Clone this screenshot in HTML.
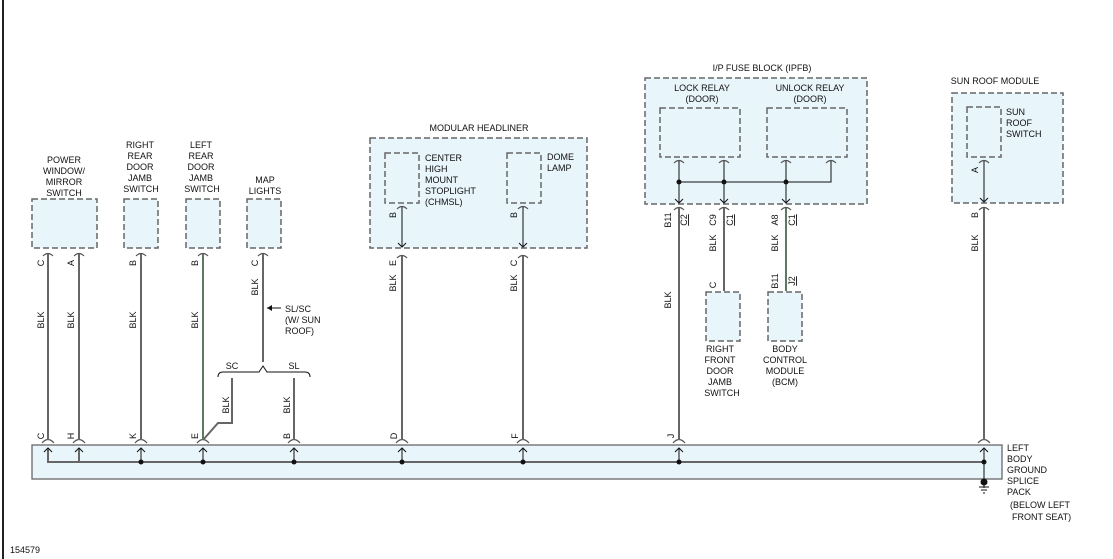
<!DOCTYPE html>
<html><head><meta charset="utf-8"><style>
html,body{margin:0;padding:0;background:#fff}
svg{display:block}
text{font-family:"Liberation Sans",sans-serif;font-size:9px;fill:#111}
.box{fill:#e8f5fb;stroke:#666;stroke-width:1.5;stroke-dasharray:6,3}
.w{stroke:#666;stroke-width:2;fill:none}
.g{stroke:#5e7a5e;stroke-width:2;fill:none}
.t{stroke:#111;stroke-width:1;fill:none}
.arc{stroke:#555;stroke-width:1.2;fill:none}
</style></head><body>
<svg width="1113" height="559" viewBox="0 0 1113 559" xmlns="http://www.w3.org/2000/svg">
<line x1="3" y1="0" x2="3" y2="559" stroke="#222" stroke-width="2"/>
<text x="10" y="553">154579</text>

<rect x="32" y="445" width="970" height="34" fill="#e8f5fb" stroke="#666" stroke-width="1.3"/>
<polyline class="w" points="48,448 48,462 985,462" stroke-width="1.5"/>
<line class="w" x1="79" y1="448" x2="79" y2="462" stroke-width="1.5"/>
<g class="t">
<line x1="141" y1="448" x2="141" y2="462"/><line x1="203" y1="448" x2="203" y2="462"/>
<line x1="294" y1="448" x2="294" y2="462"/><line x1="402" y1="448" x2="402" y2="462"/>
<line x1="523" y1="448" x2="523" y2="462"/><line x1="679" y1="448" x2="679" y2="462"/>
<line x1="984" y1="448" x2="984" y2="488"/>
</g>
<g fill="#111">
<circle cx="141" cy="462" r="2.5"/><circle cx="203" cy="462" r="2.5"/><circle cx="294" cy="462" r="2.5"/>
<circle cx="402" cy="462" r="2.5"/><circle cx="523" cy="462" r="2.5"/><circle cx="679" cy="462" r="2.5"/>
<circle cx="984" cy="462" r="2.5"/><circle cx="984" cy="482" r="3.5"/>
</g>
<g class="t"><line x1="979" y1="487" x2="989" y2="487"/><line x1="981" y1="490" x2="987" y2="490"/><line x1="983" y1="493" x2="985" y2="493"/></g>
<g class="t">
<path d="M44,452 L48,448 L52,452"/><path d="M75,452 L79,448 L83,452"/><path d="M137,452 L141,448 L145,452"/>
<path d="M199,452 L203,448 L207,452"/><path d="M290,452 L294,448 L298,452"/><path d="M398,452 L402,448 L406,452"/>
<path d="M519,452 L523,448 L527,452"/><path d="M675,452 L679,448 L683,452"/><path d="M980,452 L984,448 L988,452"/>
</g>
<text x="1007" y="451">LEFT</text><text x="1007" y="462">BODY</text><text x="1007" y="473">GROUND</text>
<text x="1007" y="484">SPLICE</text><text x="1007" y="495">PACK</text>
<text x="1010" y="508">(BELOW LEFT</text><text x="1012" y="520">FRONT SEAT)</text>

<g class="arc">
<path d="M42,443 Q48,436 54,443"/><path d="M73,443 Q79,436 85,443"/><path d="M135,443 Q141,436 147,443"/>
<path d="M197,443 Q203,436 209,443"/><path d="M288,443 Q294,436 300,443"/><path d="M396,443 Q402,436 408,443"/>
<path d="M517,443 Q523,436 529,443"/><path d="M673,443 Q679,436 685,443"/><path d="M978,443 Q984,436 990,443"/>
</g>

<rect class="box" x="32" y="199" width="65" height="49"/>
<text x="64" y="163" text-anchor="middle">POWER</text><text x="64" y="174" text-anchor="middle">WINDOW/</text>
<text x="64" y="185" text-anchor="middle">MIRROR</text><text x="64" y="196" text-anchor="middle">SWITCH</text>
<rect class="box" x="124" y="199" width="34" height="49"/>
<text x="140" y="148" text-anchor="middle">RIGHT</text><text x="140" y="159" text-anchor="middle">REAR</text>
<text x="140" y="170" text-anchor="middle">DOOR</text><text x="140" y="181" text-anchor="middle">JAMB</text><text x="141" y="192" text-anchor="middle">SWITCH</text>
<rect class="box" x="186" y="199" width="34" height="49"/>
<text x="201" y="148" text-anchor="middle">LEFT</text><text x="201" y="159" text-anchor="middle">REAR</text>
<text x="201" y="170" text-anchor="middle">DOOR</text><text x="201" y="181" text-anchor="middle">JAMB</text><text x="202" y="192" text-anchor="middle">SWITCH</text>
<rect class="box" x="247" y="199" width="34" height="49"/>
<text x="265" y="183" text-anchor="middle">MAP</text><text x="265" y="194" text-anchor="middle">LIGHTS</text>

<g class="arc">
<path d="M43,256 Q48,251 53,256"/><path d="M74,256 Q79,251 84,256"/><path d="M136,256 Q141,251 146,256"/>
<path d="M198,256 Q203,251 208,256"/><path d="M258,256 Q263,251 268,256"/>
</g>
<line class="w" x1="48" y1="254" x2="48" y2="440"/>
<line class="w" x1="79" y1="254" x2="79" y2="440"/>
<line class="w" x1="141" y1="254" x2="141" y2="440"/>
<line class="g" x1="203" y1="254" x2="203" y2="440"/>
<line class="w" x1="263" y1="254" x2="263" y2="362"/>
<polyline class="w" points="232,378 232,423 218,423 203,440"/>
<line class="w" x1="294" y1="378" x2="294" y2="440"/>
<path class="t" d="M218,377 Q218,372 223,372 L259,372 L263,366 L267,372 L305,372 Q310,372 310,377"/>
<text x="232" y="369" text-anchor="middle">SC</text><text x="294" y="369" text-anchor="middle">SL</text>
<line class="t" x1="281" y1="308" x2="267" y2="308"/><path d="M267,308 L272,305 L272,311Z" fill="#111"/>
<text x="285" y="312">SL/SC</text><text x="285" y="323">(W/ SUN</text><text x="285" y="334">ROOF)</text>

<g>
<text transform="translate(44,263) rotate(-90)" text-anchor="middle">C</text>
<text transform="translate(74,263) rotate(-90)" text-anchor="middle">A</text>
<text transform="translate(136,263) rotate(-90)" text-anchor="middle">B</text>
<text transform="translate(198,263) rotate(-90)" text-anchor="middle">B</text>
<text transform="translate(258,263) rotate(-90)" text-anchor="middle">C</text>
<text transform="translate(44,320) rotate(-90)" text-anchor="middle">BLK</text>
<text transform="translate(74,320) rotate(-90)" text-anchor="middle">BLK</text>
<text transform="translate(136,320) rotate(-90)" text-anchor="middle">BLK</text>
<text transform="translate(198,320) rotate(-90)" text-anchor="middle">BLK</text>
<text transform="translate(258,287) rotate(-90)" text-anchor="middle">BLK</text>
<text transform="translate(229,405) rotate(-90)" text-anchor="middle">BLK</text>
<text transform="translate(290,405) rotate(-90)" text-anchor="middle">BLK</text>
<text transform="translate(44,436) rotate(-90)" text-anchor="middle">C</text>
<text transform="translate(74,436) rotate(-90)" text-anchor="middle">H</text>
<text transform="translate(136,436) rotate(-90)" text-anchor="middle">K</text>
<text transform="translate(198,436) rotate(-90)" text-anchor="middle">E</text>
<text transform="translate(290,436) rotate(-90)" text-anchor="middle">B</text>
<text transform="translate(397,436) rotate(-90)" text-anchor="middle">D</text>
<text transform="translate(518,436) rotate(-90)" text-anchor="middle">F</text>
<text transform="translate(674,436) rotate(-90)" text-anchor="middle">J</text>
</g>

<rect class="box" x="370" y="138" width="217" height="110"/>
<text x="479" y="131" text-anchor="middle">MODULAR HEADLINER</text>
<rect class="box" x="385" y="153" width="34" height="50"/>
<text x="425" y="161">CENTER</text><text x="425" y="172">HIGH</text><text x="425" y="183">MOUNT</text>
<text x="425" y="194">STOPLIGHT</text><text x="425" y="205">(CHMSL)</text>
<rect class="box" x="507" y="153" width="34" height="50"/>
<text x="547" y="160">DOME</text><text x="547" y="171">LAMP</text>
<g class="arc"><path d="M397,209 Q402,204 407,209"/><path d="M518,209 Q523,204 528,209"/>
<path d="M397,258 Q402,253 407,258"/><path d="M518,258 Q523,253 528,258"/></g>
<line class="t" x1="402" y1="207" x2="402" y2="247"/><line class="t" x1="523" y1="207" x2="523" y2="247"/>
<path class="t" d="M398,243 L402,247 L406,243"/><path class="t" d="M519,243 L523,247 L527,243"/>
<line class="w" x1="402" y1="256" x2="402" y2="440"/><line class="w" x1="523" y1="256" x2="523" y2="440"/>
<text transform="translate(396,215) rotate(-90)" text-anchor="middle">B</text>
<text transform="translate(517,215) rotate(-90)" text-anchor="middle">B</text>
<text transform="translate(396,263) rotate(-90)" text-anchor="middle">E</text>
<text transform="translate(517,263) rotate(-90)" text-anchor="middle">C</text>
<text transform="translate(396,283) rotate(-90)" text-anchor="middle">BLK</text>
<text transform="translate(517,283) rotate(-90)" text-anchor="middle">BLK</text>

<rect class="box" x="645" y="78" width="222" height="126"/>
<text x="762" y="71" text-anchor="middle">I/P FUSE BLOCK (IPFB)</text>
<rect class="box" x="660" y="108" width="80" height="49"/>
<rect class="box" x="767" y="108" width="80" height="49"/>
<text x="702" y="91" text-anchor="middle">LOCK RELAY</text><text x="702" y="102" text-anchor="middle">(DOOR)</text>
<text x="810" y="91" text-anchor="middle">UNLOCK RELAY</text><text x="810" y="102" text-anchor="middle">(DOOR)</text>
<g class="arc"><path d="M674,163 Q679,158 684,163"/><path d="M719,163 Q724,158 729,163"/>
<path d="M781,163 Q786,158 791,163"/><path d="M826,163 Q831,158 836,163"/>
<path d="M674,210 Q679,205 684,210"/><path d="M719,210 Q724,205 729,210"/><path d="M781,210 Q786,205 791,210"/>
<path d="M719,297 Q724,292 729,297"/><path d="M781,297 Q786,292 791,297"/></g>
<polyline class="t" points="679,161 679,182 831,182 831,161"/>
<line class="t" x1="724" y1="161" x2="724" y2="203"/><line class="t" x1="786" y1="161" x2="786" y2="203"/>
<line class="t" x1="679" y1="182" x2="679" y2="203"/>
<g fill="#111"><circle cx="679" cy="182" r="2.5"/><circle cx="724" cy="182" r="2.5"/><circle cx="786" cy="182" r="2.5"/></g>
<g class="t"><path d="M675,199 L679,203 L683,199"/><path d="M720,199 L724,203 L728,199"/><path d="M782,199 L786,203 L790,199"/></g>
<line class="w" x1="679" y1="208" x2="679" y2="440"/>
<line class="w" x1="724" y1="208" x2="724" y2="291"/>
<line class="g" x1="786" y1="208" x2="786" y2="291"/>
<text transform="translate(671,220) rotate(-90)" text-anchor="middle">B11</text>
<text transform="translate(687,220) rotate(-90)" text-anchor="middle" text-decoration="underline">C2</text>
<text transform="translate(716,220) rotate(-90)" text-anchor="middle">C9</text>
<text transform="translate(733,220) rotate(-90)" text-anchor="middle" text-decoration="underline">C1</text>
<text transform="translate(778,220) rotate(-90)" text-anchor="middle">A8</text>
<text transform="translate(795,220) rotate(-90)" text-anchor="middle" text-decoration="underline">C1</text>
<text transform="translate(716,243) rotate(-90)" text-anchor="middle">BLK</text>
<text transform="translate(778,243) rotate(-90)" text-anchor="middle">BLK</text>
<text transform="translate(671,300) rotate(-90)" text-anchor="middle">BLK</text>
<text transform="translate(716,285) rotate(-90)" text-anchor="middle">C</text>
<text transform="translate(778,281) rotate(-90)" text-anchor="middle">B11</text>
<text transform="translate(795,281) rotate(-90)" text-anchor="middle" text-decoration="underline">J2</text>
<rect class="box" x="706" y="292" width="34" height="49"/>
<rect class="box" x="768" y="292" width="34" height="49"/>
<text x="720" y="352" text-anchor="middle">RIGHT</text><text x="720" y="363" text-anchor="middle">FRONT</text>
<text x="720" y="374" text-anchor="middle">DOOR</text><text x="720" y="385" text-anchor="middle">JAMB</text><text x="722" y="396" text-anchor="middle">SWITCH</text>
<text x="785" y="352" text-anchor="middle">BODY</text><text x="785" y="363" text-anchor="middle">CONTROL</text>
<text x="785" y="374" text-anchor="middle">MODULE</text><text x="785" y="385" text-anchor="middle">(BCM)</text>

<rect class="box" x="952" y="93" width="111" height="110"/>
<text x="995" y="84" text-anchor="middle">SUN ROOF MODULE</text>
<rect class="box" x="967" y="107" width="34" height="50"/>
<text x="1006" y="115">SUN</text><text x="1006" y="126">ROOF</text><text x="1006" y="137">SWITCH</text>
<g class="arc"><path d="M979,163 Q984,158 989,163"/><path d="M979,210 Q984,205 989,210"/></g>
<line class="t" x1="984" y1="161" x2="984" y2="202"/><path class="t" d="M980,198 L984,202 L988,198"/>
<line class="w" x1="984" y1="208" x2="984" y2="440"/>
<text transform="translate(978,170) rotate(-90)" text-anchor="middle">A</text>
<text transform="translate(978,215) rotate(-90)" text-anchor="middle">B</text>
<text transform="translate(978,243) rotate(-90)" text-anchor="middle">BLK</text>
</svg>
</body></html>
